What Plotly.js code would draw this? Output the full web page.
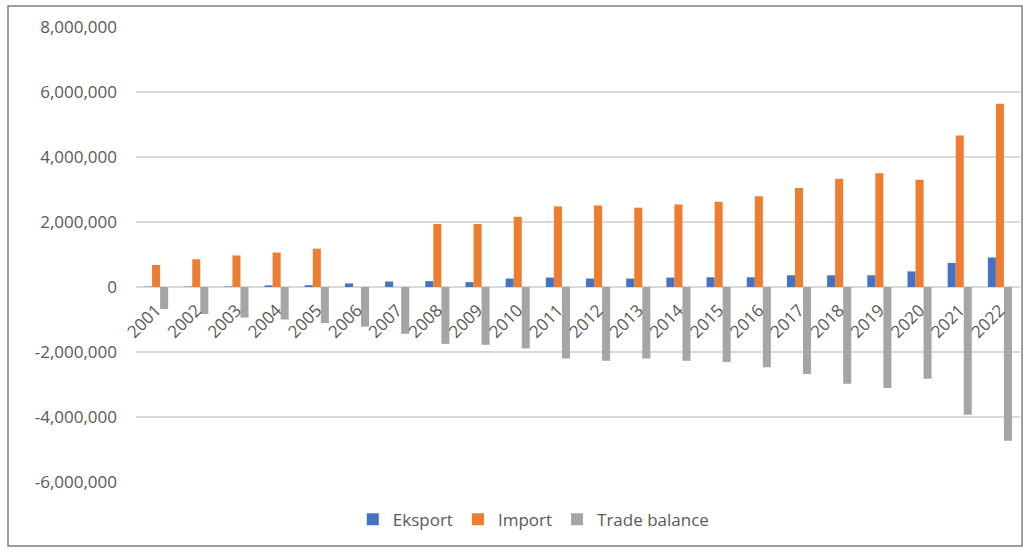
<!DOCTYPE html>
<html>
<head>
<meta charset="utf-8">
<script src="https://cdn.plot.ly/plotly-3.0.1.min.js"></script>
<style>html,body{margin:0;padding:0;background:#fff;}#chart{width:1035px;height:550px;}</style>
</head>
<body>
<div id="chart"></div>
<script>
const years = ['2001','2002','2003','2004','2005','2006','2007','2008','2009','2010','2011','2012','2013','2014','2015','2016','2017','2018','2019','2020','2021','2022'];
const eksport = [10000,12000,15000,50000,55000,110000,170000,180000,150000,260000,290000,260000,260000,290000,300000,300000,360000,360000,360000,480000,740000,910000];
const importVals = [680000,855000,970000,1060000,1180000,null,null,1940000,1940000,2160000,2480000,2510000,2440000,2540000,2620000,2790000,3050000,3330000,3500000,3300000,4660000,5640000];
const tradeBalance = [-680000,-830000,-940000,-1000000,-1110000,-1220000,-1440000,-1750000,-1780000,-1890000,-2200000,-2270000,-2200000,-2270000,-2310000,-2470000,-2680000,-2980000,-3110000,-2820000,-3930000,-4730000];
const yTicks = [-6000000,-4000000,-2000000,0,2000000,4000000,6000000,8000000];
const yTickText = ['-6,000,000','-4,000,000','-2,000,000','0','2,000,000','4,000,000','6,000,000','8,000,000'];

const font = 'Open Sans, Lato, sans-serif';
const traces = [
  {type:'bar', name:'Eksport', x:years, y:eksport, marker:{color:'#4472C4'}},
  {type:'bar', name:'Import', x:years, y:importVals, marker:{color:'#ED7D31'}},
  {type:'bar', name:'Trade balance', x:years, y:tradeBalance, marker:{color:'#A5A5A5'}}
];
const layout = {
  width:1035, height:550,
  margin:{l:136, r:15, t:27, b:68},
  paper_bgcolor:'#fff', plot_bgcolor:'#fff',
  barmode:'group', bargap:0.4, bargroupgap:0,
  showlegend:true,
  legend:{orientation:'h', x:0.45, xanchor:'center', y:-0.083, yanchor:'middle',
          font:{family:font, size:17, color:'#595959'}, itemwidth:30, traceorder:'normal'},
  xaxis:{type:'category', anchor:'free', position:6/14, showgrid:false, showline:false,
         ticks:'', tickangle:-45, ticklabelstandoff:9, tickfont:{family:font, size:17, color:'#595959'}, zeroline:false,
         fixedrange:true},
  yaxis:{range:[-6000000,8000000], tickvals:yTicks, ticktext:yTickText, showgrid:true,
         gridcolor:'#D9D9D9', gridwidth:1.3, zeroline:true, zerolinecolor:'#D9D9D9', zerolinewidth:1.3,
         showline:false, ticks:'', ticklabelstandoff:18,
         tickfont:{family:font, size:17, color:'#595959'}},
  shapes:[{type:'rect', xref:'paper', yref:'paper', x0:-0.1448, x1:1.0023, y0:-0.1407, y1:1.0462,
           line:{color:'#7F7F7F', width:1.5}, fillcolor:'rgba(0,0,0,0)'}]
};
Plotly.newPlot('chart', traces, layout, {displayModeBar:false, staticPlot:true});
</script>
</body>
</html>
